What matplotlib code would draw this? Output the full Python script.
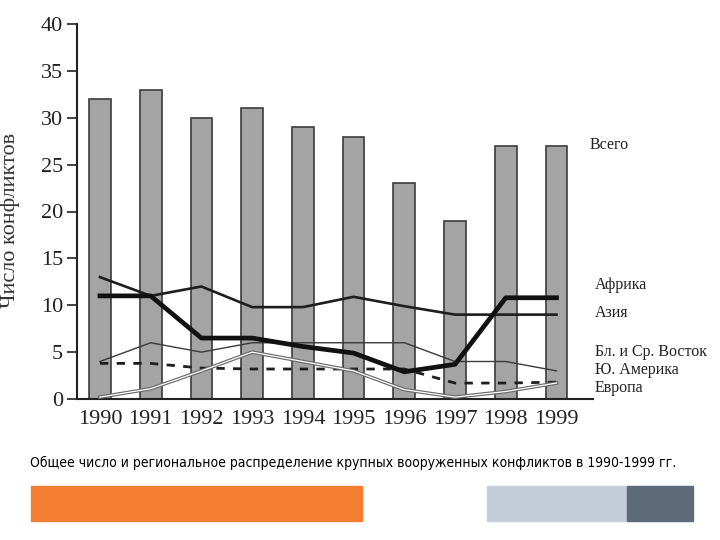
import matplotlib
matplotlib.use("Agg")
import matplotlib.pyplot as plt
from matplotlib.patches import Rectangle

# Data
years = [1990, 1991, 1992, 1993, 1994, 1995, 1996, 1997, 1998, 1999]
total = [32, 33, 30, 31, 29, 28, 23, 19, 27, 27]
africa = [11, 11, 6.5, 6.5, 5.6, 4.9, 2.9, 3.7, 10.8, 10.8]
asia = [13, 11, 12, 9.8, 9.8, 10.9, 9.9, 9, 9, 9]
mideast = [4, 6, 5, 6, 6, 6, 6, 4, 4, 3]
s_america = [3.8, 3.8, 3.3, 3.2, 3.2, 3.2, 3.2, 1.7, 1.7, 1.8]
europe = [0.2, 1.1, 3, 5, 4, 3, 1, 0.2, 0.8, 1.7]
y_ticks = [0, 5, 10, 15, 20, 25, 30, 35, 40]

serif = ["Liberation Serif", "DejaVu Serif"]

fig = plt.figure(figsize=(7.2, 5.4), dpi=100)
ax = fig.add_axes([77 / 720, 1 - 399 / 540, 516 / 720, 375 / 540])

ax.bar(years, total, width=0.43, color="#a4a4a4", edgecolor="#3c3c3c",
       linewidth=1.2, zorder=1)

ax.plot(years, asia, color="#1e1e1e", lw=1.9, zorder=3)
ax.plot(years, mideast, color="#3a3a3a", lw=1.0, zorder=3)
ax.plot(years, s_america, color="#1e1e1e", lw=2.0, dashes=(3, 3), zorder=3)
# double-stroke line for Europe
ax.plot(years, europe, color="#6a6a6a", lw=2.6, zorder=3)
ax.plot(years, europe, color="white", lw=0.9, zorder=3)
ax.plot(years, africa, color="#111111", lw=3.4, zorder=4,
        solid_joinstyle="round")

ax.set_xlim(1989.547, 1999.72)
ax.set_ylim(0, 40)
ax.set_xticks(years)
ax.set_xticklabels([str(y) for y in years], family=serif, fontsize=16)
ax.set_yticks(y_ticks)
ax.set_yticklabels([str(v) for v in y_ticks], family=serif, fontsize=16)
ax.tick_params(axis="x", length=0, pad=8, colors="#222222")
ax.tick_params(axis="y", length=7, width=1.2, pad=3, direction="out",
               colors="#222222")
for s in ("top", "right"):
    ax.spines[s].set_visible(False)
for s in ("left", "bottom"):
    ax.spines[s].set_linewidth(1.5)
    ax.spines[s].set_color("#222222")

fig.text(10 / 720, 1 - 220 / 540, "Число конфликтов", rotation=90,
         family=serif, fontsize=16, color="#333333", ha="center", va="center")

labels = [("Всего", 590, 145), ("Африка", 595, 285), ("Азия", 595, 313),
          ("Бл. и Ср. Восток", 595, 352), ("Ю. Америка", 595, 370),
          ("Европа", 595, 388)]
for txt, px, py in labels:
    fig.text(px / 720, 1 - py / 540, txt, family=serif, fontsize=11.5,
             color="#222222", ha="left", va="center")

caption = fig.text(30 / 720, 1 - 463 / 540,
                   "Общее число и региональное распределение крупных "
                   "вооруженных конфликтов в 1990-1999 гг.",
                   family="DejaVu Sans", fontstretch="condensed",
                   fontsize=10.5, color="black", ha="left", va="center")
# shrink the caption so it spans about 650 px like the original
renderer = fig.canvas.get_renderer()
w = caption.get_window_extent(renderer).width
if w > 652:
    caption.set_fontsize(10.5 * 652 / w)

fig.add_artist(Rectangle((31 / 720, 1 - 521 / 540), 331 / 720, 35 / 540,
                         transform=fig.transFigure, color="#f37e32"))
fig.add_artist(Rectangle((487 / 720, 1 - 521 / 540), 140 / 720, 35 / 540,
                         transform=fig.transFigure, color="#c5cdda"))
fig.add_artist(Rectangle((627 / 720, 1 - 521 / 540), 66 / 720, 35 / 540,
                         transform=fig.transFigure, color="#5d6b78"))

fig.savefig("out.png", dpi=100)
